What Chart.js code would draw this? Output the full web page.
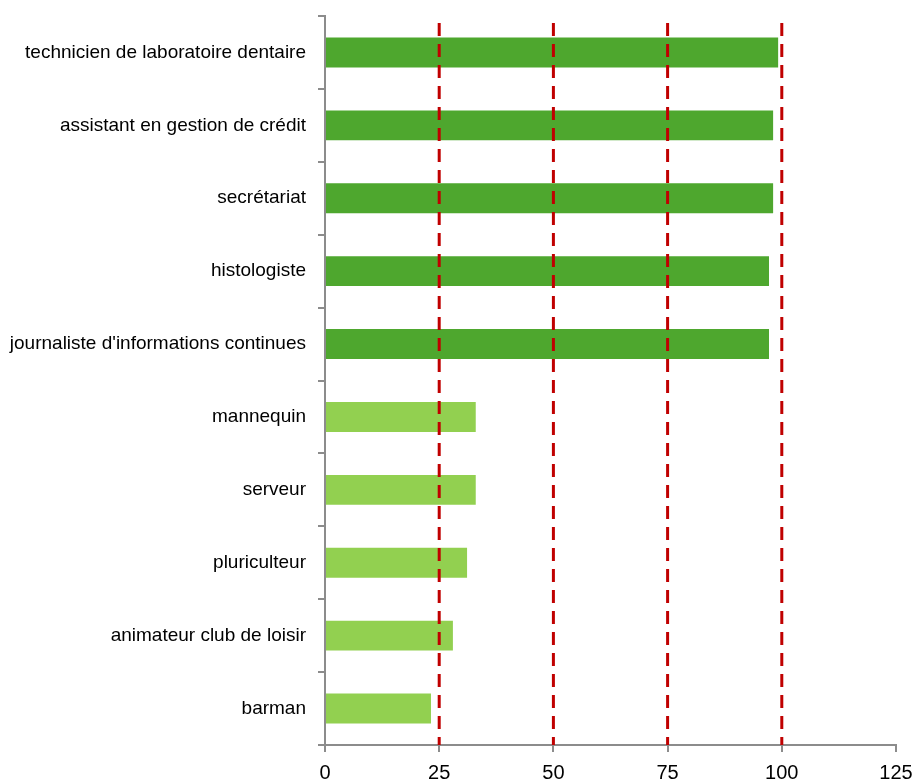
<!DOCTYPE html>
<html>
<head>
<meta charset="utf-8">
<script src="https://cdn.jsdelivr.net/npm/chart.js@4.4.1/dist/chart.umd.min.js"></script>
<style>
  html, body { margin: 0; padding: 0; background: #fff; }
  #wrap { width: 914px; height: 783px; }
</style>
</head>
<body>
<div id="wrap"><canvas id="myChart" width="914" height="783"></canvas></div>
<script>
// data
const metiers = [
  'technicien de laboratoire dentaire',
  'assistant en gestion de crédit',
  'secrétariat',
  'histologiste',
  "journaliste d'informations continues",
  'mannequin',
  'serveur',
  'pluriculteur',
  'animateur club de loisir',
  'barman'
];
const valeurs = [99.2, 98.1, 98.1, 97.2, 97.2, 33.0, 33.0, 31.1, 28.0, 23.2];
const groupe = ['haut', 'haut', 'haut', 'haut', 'haut', 'bas', 'bas', 'bas', 'bas', 'bas'];
const refLines = [25, 50, 75, 100];
const xTicks = [0, 25, 50, 75, 100, 125];

const labelFont = { family: "'Liberation Sans Narrow', 'Arial Narrow', 'Liberation Sans', sans-serif", size: 19 };
const numFont = { family: "'Liberation Sans Narrow', 'Arial Narrow', 'Liberation Sans', sans-serif", size: 20 };
const axisGray = '#8c8c8c';

// dashed red lines drawn over the bars
const refLinePlugin = {
  id: 'refLines',
  afterDatasetsDraw: (chart) => {
    const ctx = chart.ctx;
    const x = chart.scales.x;
    const area = chart.chartArea;
    ctx.save();
    ctx.strokeStyle = '#c00000';
    ctx.lineWidth = 3;
    ctx.setLineDash([13, 8]);
    refLines.forEach(v => {
      const px = x.getPixelForValue(v);
      ctx.beginPath();
      ctx.moveTo(px, area.top + 7);
      ctx.lineTo(px, area.bottom);
      ctx.stroke();
    });
    ctx.restore();
  }
};

const config = {
  type: 'bar',
  data: {
    labels: metiers,
    datasets: [{
      data: valeurs,
      backgroundColor: groupe.map(g => g === 'haut' ? '#4ea72e' : '#92d050'),
      borderWidth: 0,
      categoryPercentage: 1,
      barPercentage: 0.41
    }]
  },
  options: {
    indexAxis: 'y',
    responsive: false,
    animation: false,
    layout: { padding: { top: 16, right: 18, bottom: 0, left: 0 } },
    plugins: {
      legend: { display: false },
      tooltip: { enabled: false }
    },
    scales: {
      x: {
        min: 0,
        max: 125,
        afterBuildTicks: (scale) => { scale.ticks = xTicks.map(v => ({ value: v })); },
        afterFit: (scale) => {
          scale.height = 38;
          scale.paddingLeft = 0; scale.paddingRight = 0;
          scale.paddingTop = 0; scale.paddingBottom = 0;
        },
        grid: { drawOnChartArea: false, drawTicks: true, tickLength: 7, color: axisGray, lineWidth: 2 },
        border: { color: axisGray, width: 2 },
        ticks: { color: '#000', font: numFont, padding: 9, maxRotation: 0 }
      },
      y: {
        afterFit: (scale) => {
          scale.width = 325;
          scale.paddingLeft = 0; scale.paddingRight = 0;
          scale.paddingTop = 0; scale.paddingBottom = 0;
        },
        grid: { drawOnChartArea: false, drawTicks: true, tickLength: 7, color: axisGray, lineWidth: 2, offset: true },
        border: { color: axisGray, width: 2 },
        ticks: { color: '#000', font: labelFont, padding: 12, autoSkip: false }
      }
    }
  },
  plugins: [refLinePlugin]
};

const myChart = new Chart(document.getElementById('myChart'), config);
</script>
</body>
</html>
